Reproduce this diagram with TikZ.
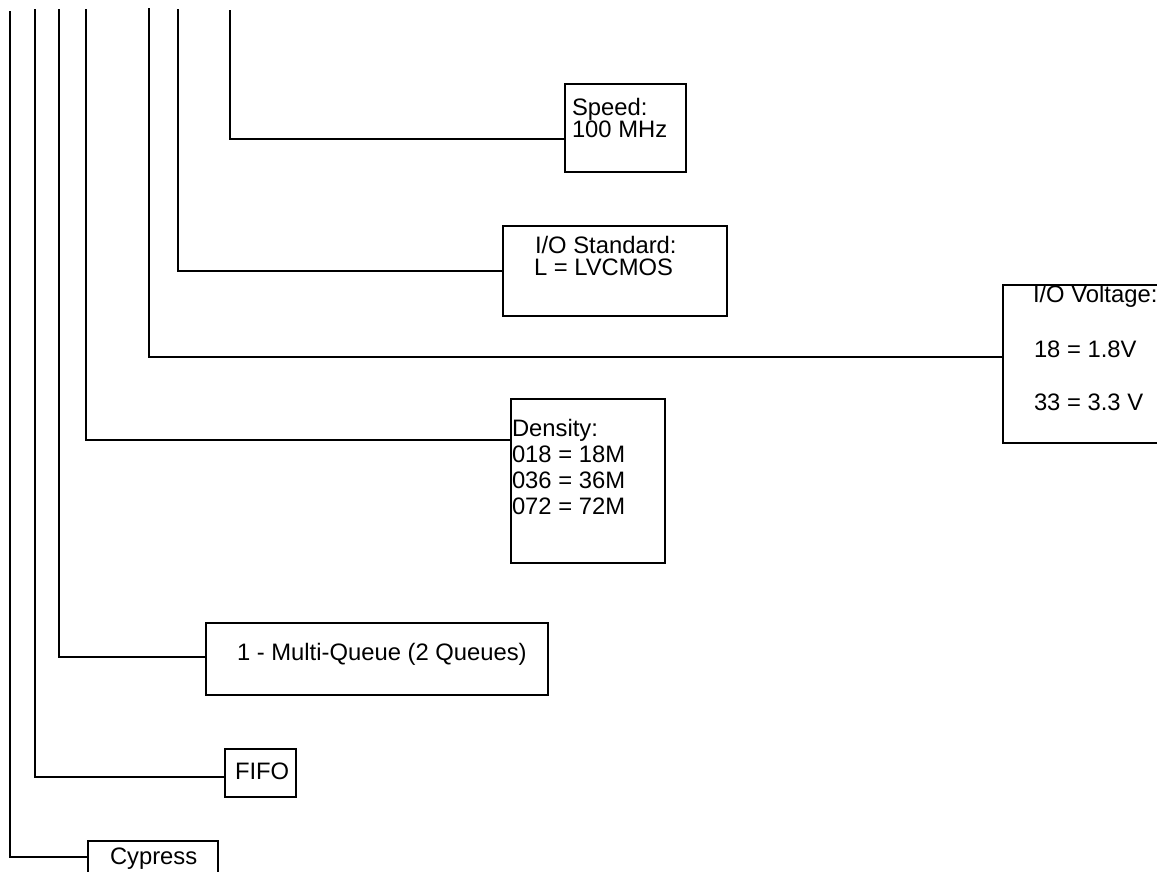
\documentclass[tikz,border=0pt]{standalone}
\usepackage{fontspec}
\setmainfont{Liberation Sans}
\usetikzlibrary{positioning}

\tikzset{
  field/.style={draw,line width=2.5pt,anchor=north west,inner sep=0pt,outer sep=0pt},
  txt/.style={anchor=base west,inner sep=0pt,outer sep=0pt,font=\fontsize{23.8}{26}\selectfont},
  lead/.style={line width=2.4pt}
}

\begin{document}
\begin{tikzpicture}[x=1pt,y=-1pt]
    \useasboundingbox (0,0) rectangle (1157,871);
    % tops of the leads
    \coordinate (l1) at (10,11);
    \coordinate (l2) at (35,9);
    \coordinate (l3) at (59,9);
    \coordinate (l4) at (86,9);
    \coordinate (l5) at (149,8);
    \coordinate (l6) at (178,9);
    \coordinate (l7) at (230,10);
    % boxes
    \node[field,minimum width=121pt,minimum height=88pt] (spd) at (565,84) {};
    \node[field,minimum width=224pt,minimum height=90pt] (std) at (503,226) {};
    \node[field,minimum width=200pt,minimum height=158pt] (vol) at (1003,285) {};
    \node[field,minimum width=154pt,minimum height=164pt] (den) at (511,399) {};
    \node[field,minimum width=342pt,minimum height=72pt] (mq) at (206,623) {};
    \node[field,minimum width=71pt,minimum height=48pt] (fifo) at (225,749) {};
    \node[field,minimum width=130pt,minimum height=60pt] (cyp) at (88,841) {};
    % texts
    \node[txt] (spdA) at (572,115) {Speed:};
    \node[txt] (spdB) at (572,137) {100 MHz};
    \node[txt] (stdA) at (535,253) {I/O Standard:};
    \node[txt] (stdB) at (534,275) {L = LVCMOS};
    \node[txt] (volA) at (1033,302) {I/O Voltage:};
    \node[txt] (volB) at (1034,357) {18 = 1.8V};
    \node[txt] (volC) at (1034,410) {33 = 3.3 V};
    \node[txt] (denA) at (512,436) {Density:};
    \node[txt] (denB) at (512,462) {018 = 18M};
    \node[txt] (denC) at (512,488) {036 = 36M};
    \node[txt] (denD) at (512,514) {072 = 72M};
    \node[txt] (mqA) at (237,660) {1 - Multi-Queue (2 Queues)};
    \node[txt] (fifoA) at (235,779) {FIFO};
    \node[txt] (cypA) at (110,864) {Cypress};
    % leads
    \draw[lead] (l1) |- ([yshift=14pt]cyp.west);
    \draw[lead] (l2) |- ([yshift=-4pt]fifo.west);
    \draw[lead] (l3) |- ([yshift=2pt]mq.west);
    \draw[lead] (l4) |- ([yshift=41pt]den.west);
    \draw[lead] (l5) |- ([yshift=7pt]vol.west);
    \draw[lead] (l6) |- (std.west);
    \draw[lead] (l7) |- ([yshift=-11pt]spd.west);
\end{tikzpicture}
\end{document}
